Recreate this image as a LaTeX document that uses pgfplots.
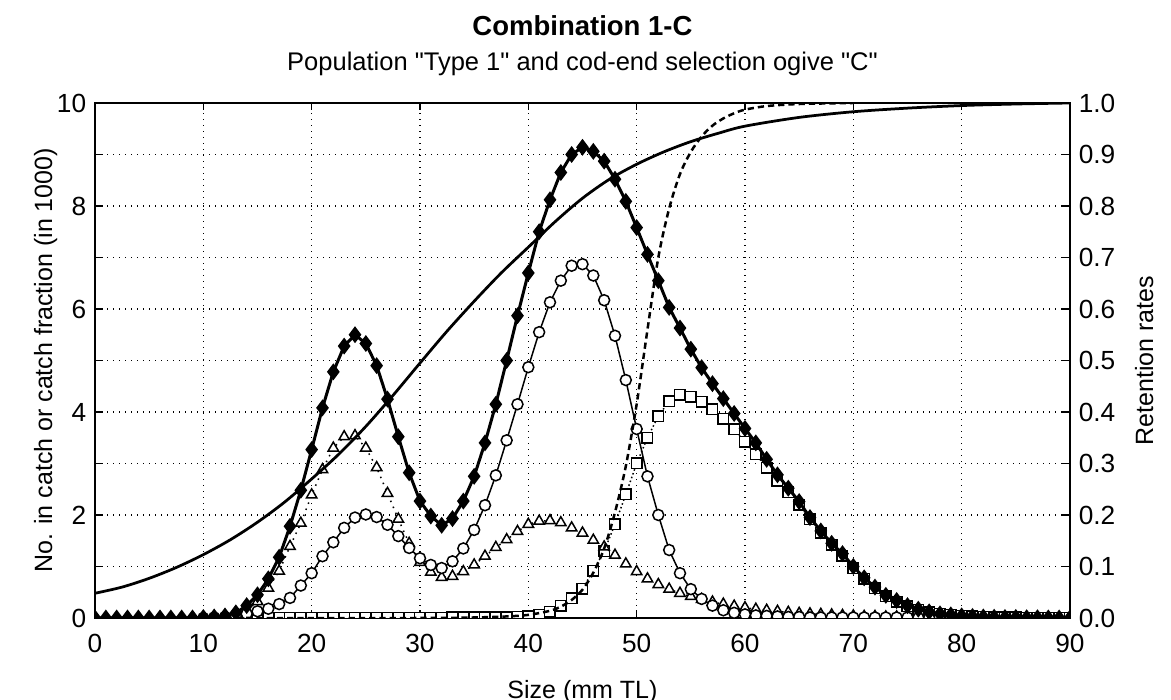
\documentclass[border=0pt]{standalone}
\usepackage{fontspec}
\setmainfont{Liberation Sans}
\newfontfamily\plainsans{Liberation Sans}
\usepackage{pgfplots}
\usepackage{pgfplotstable}
\pgfplotsset{compat=1.18}

% catch at length: total, cohort 1 (circles), cohort 2 (triangles), cohort 3 (squares)
\pgfplotstableread{
x tot circ tri sq
0 0 nan nan nan
1 0 nan nan nan
2 0 nan nan nan
3 0 nan nan nan
4 0 nan nan nan
5 0 nan nan nan
6 0 nan nan nan
7 0 nan nan nan
8 0 nan nan nan
9 0 nan nan nan
10 0.01 0 0 nan
11 0.02 0.01 0.01 nan
12 0.04 0.02 0.02 nan
13 0.10 0.04 0.06 0
14 0.24 0.08 0.16 0
15 0.45 0.13 0.32 0
16 0.76 0.18 0.58 0
17 1.18 0.27 0.91 0
18 1.78 0.39 1.39 0
19 2.48 0.63 1.84 0
20 3.27 0.87 2.39 0
21 4.08 1.20 2.88 0
22 4.78 1.47 3.30 0
23 5.28 1.75 3.52 0
24 5.50 1.95 3.54 0
25 5.33 2.01 3.30 0
26 4.90 1.96 2.92 0
27 4.25 1.81 2.42 0
28 3.52 1.59 1.92 0
29 2.82 1.36 1.45 0
30 2.27 1.16 1.08 0
31 1.98 1.03 0.89 0
32 1.80 0.97 0.79 0
33 1.93 1.10 0.81 0.01
34 2.27 1.35 0.90 0.01
35 2.75 1.71 1.03 0.01
36 3.40 2.19 1.20 0.01
37 4.15 2.77 1.37 0.01
38 5.00 3.45 1.52 0.01
39 5.87 4.15 1.68 0.02
40 6.70 4.87 1.82 0.03
41 7.50 5.55 1.88 0.06
42 8.12 6.13 1.89 0.12
43 8.65 6.55 1.85 0.24
44 9.00 6.84 1.75 0.38
45 9.14 6.87 1.65 0.57
46 9.06 6.65 1.51 0.92
47 8.87 6.17 1.38 1.30
48 8.52 5.48 1.22 1.82
49 8.09 4.62 1.05 2.40
50 7.58 3.67 0.90 3.00
51 7.06 2.75 0.76 3.50
52 6.55 2.00 0.65 3.92
53 6.03 1.32 0.56 4.21
54 5.63 0.87 0.48 4.33
55 5.22 0.56 0.42 4.30
56 4.86 0.37 0.36 4.20
57 4.55 0.24 0.31 4.05
58 4.26 0.15 0.27 3.87
59 3.97 0.10 0.23 3.66
60 3.68 0.07 0.20 3.42
61 3.40 0.05 0.17 3.18
62 3.08 0.04 0.15 2.92
63 2.78 0.03 0.13 2.66
64 2.52 0.02 0.11 2.44
65 2.26 0.02 0.09 2.20
66 1.95 0.01 0.08 1.92
67 1.69 0.01 0.07 1.66
68 1.45 0.01 0.06 1.42
69 1.25 0.01 0.05 1.21
70 1.00 0.01 0.04 0.97
71 0.78 0.01 0.03 0.76
72 0.60 0.01 0.03 0.58
73 0.44 0.01 0.02 0.42
74 0.34 0.01 0.02 0.32
75 0.24 0.01 0.01 0.23
76 0.17 0 0.01 0.16
77 0.12 0 0.01 0.11
78 0.08 nan nan 0.08
79 0.06 nan nan 0.06
80 0.04 nan nan 0.04
81 0.03 nan nan 0.03
82 0.02 nan nan 0.02
83 0.015 nan nan 0.015
84 0.01 nan nan 0.01
85 0.01 nan nan 0.01
86 0.005 nan nan 0.005
87 0.005 nan nan 0.005
88 0 nan nan 0
89 0 nan nan 0
90 0 nan nan 0
}\catchtab

% retention ogives (right axis)
\pgfplotstableread{
x r
0 0.048
2.5 0.060
5 0.077
7.5 0.098
10 0.123
12.5 0.152
15 0.186
17.5 0.225
20 0.270
22.5 0.318
25 0.372
27.5 0.432
30 0.495
32.5 0.557
35 0.615
37.5 0.670
40 0.720
42.5 0.770
45 0.815
47.5 0.852
50 0.881
52.5 0.905
55 0.925
57.5 0.941
60 0.955
65 0.972
70 0.983
75 0.990
80 0.995
85 0.998
90 1.000
}\ogiveone

\pgfplotstableread{
x r
13 0
30 0
35 0.001
38 0.003
40 0.006
42 0.014
43 0.022
44 0.035
45 0.055
46 0.088
47 0.135
48 0.205
49 0.295
50 0.415
51 0.560
52 0.700
53 0.795
54 0.862
55 0.905
56 0.935
57 0.956
58 0.970
59 0.980
60 0.987
62 0.994
65 0.998
70 1.000
}\ogivetwo

\begin{document}
\begin{tikzpicture}
\useasboundingbox (-38pt,-32.8pt) rectangle (430.4pt,247.2pt);
\pgfplotsset{
  every axis/.append style={
    scale only axis, width=390pt, height=206pt,
    xmin=0, xmax=90,
    font=\fontsize{10}{12}\selectfont,
    tick label style={font=\fontsize{10.5}{12}\selectfont},
    /pgf/number format/assume math mode=true,
    tick align=inside, major tick length=3pt,
    axis line style={line width=0.8pt},
    every tick/.style={black, line width=0.6pt},
  }
}
\begin{axis}[
  ymin=0, ymax=10,
  xtick={0,10,...,90},
  ytick={0,1,...,10},
  yticklabels={0,,2,,4,,6,,8,,10},
  grid=major,
  major grid style={black, dotted, line width=0.6pt},
  clip mode=individual,
  clip marker paths=true,
  xticklabel style={yshift=-3pt},
  xlabel={Size (mm TL)},
  ylabel={No. in catch or catch fraction (in 1000)},
  xlabel style={yshift=-4pt},
  ylabel style={yshift=-7pt},
]
\addplot[black, line width=0.6pt, densely dotted, mark=square*,
  mark size=2.1pt, mark options={solid, fill=white, draw=black, line width=0.6pt}]
  table[x=x, y=sq] {\catchtab};
\addplot[black, line width=0.6pt, dotted, mark=triangle*,
  mark size=2.4pt, mark options={solid, fill=white, draw=black, line width=0.6pt}]
  table[x=x, y=tri] {\catchtab};
\addplot[black, line width=0.6pt, mark=*,
  mark size=2.2pt, mark options={solid, fill=white, draw=black, line width=0.6pt}]
  table[x=x, y=circ] {\catchtab};
\addplot[black, line width=1.2pt, mark=diamond*,
  mark size=2.4pt, mark options={solid, fill=black}]
  table[x=x, y=tot] {\catchtab};
\node[font=\fontsize{11}{13}\selectfont\bfseries] at (rel axis cs:0.5,1) [yshift=31pt] {Combination 1-C};
\node[font=\fontsize{10.2}{12}\selectfont\plainsans] at (rel axis cs:0.5,1) [yshift=15.5pt] {Population "Type 1" and cod-end selection ogive "C"};
\end{axis}
\begin{axis}[
  ymin=0, ymax=1,
  axis y line*=right,
  axis x line=none,
  ytick={0,0.1,...,1.0},
  yticklabel style={/pgf/number format/fixed, /pgf/number format/fixed zerofill, /pgf/number format/precision=1},
  ylabel={Retention rates},
  ylabel style={yshift=-1pt},
]
\addplot[black, line width=1.1pt, smooth, no marks] table[x=x, y=r] {\ogiveone};
\addplot[black, line width=1.0pt, smooth, no marks, dash pattern=on 2.5pt off 1.6pt] table[x=x, y=r] {\ogivetwo};
\end{axis}
\end{tikzpicture}
\end{document}
